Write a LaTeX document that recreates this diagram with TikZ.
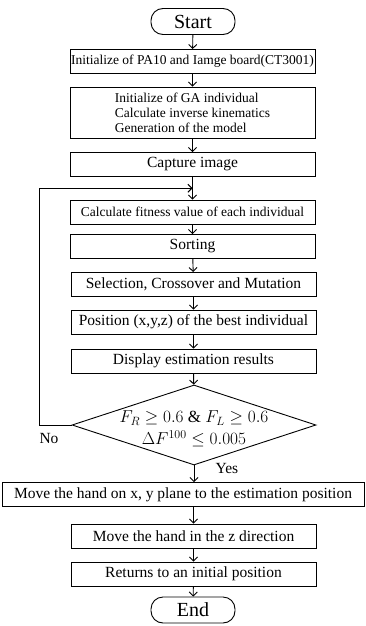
\documentclass[tikz,border=0pt]{standalone}
\usepackage{fontspec}
\setmainfont{Liberation Serif}
\usetikzlibrary{shapes.geometric,arrows.meta,calc}

\tikzset{
  procbox/.style={draw, line width=0.9pt, minimum width=245pt, minimum height=24pt, inner sep=1pt, font=\fontsize{15.5}{17}\selectfont},
  smalltext/.style={font=\fontsize{13.5}{15}\selectfont},
  termbox/.style={draw, line width=0.9pt, rounded corners=12pt, minimum width=84pt, minimum height=26pt, font=\fontsize{20}{22}\selectfont},
  decision/.style={draw, line width=0.9pt, diamond, minimum width=244pt, minimum height=80pt, inner sep=0pt},
  flow/.style={line width=0.9pt, -{Straight Barb[length=4pt,width=8pt]}},
}

\begin{document}
\begin{tikzpicture}[x=1pt, y=-1pt]
\useasboundingbox (0,0) rectangle (366,626);
% main column
\node[termbox] (start) at (193,21.5) {Start};
\node[procbox, smalltext] (init) at (192.5,61.5) {Initialize of PA10 and Iamge board(CT3001)};
\node[procbox, minimum height=51pt, align=left, font=\fontsize{13.5}{15}\selectfont] (ga) at (192.5,112.5) {Initialize of GA individual\\Calculate inverse kinematics\\Generation of the model};
\node[procbox] (cap) at (192.5,164.5) {Capture image};
\node[procbox, smalltext] (fit) at (192.5,212) {Calculate fitness value of each individual};
\node[procbox] (sort) at (192.5,246.5) {Sorting};
\node[procbox] (sel) at (193.5,284.5) {Selection, Crossover and Mutation};
\node[procbox] (pos) at (193.5,322) {Position (x,y,z) of the best individual};
\node[procbox] (disp) at (193.5,361) {Display estimation results};
\node[decision] (dec) at (194,425) {};
\node[font=\fontsize{17}{19}\selectfont, align=center] (cond) at ([yshift=-4pt]dec.center) {$F_R \geq 0.6\ \&\ F_L \geq 0.6$\\[3pt]$\Delta F^{100} \leq 0.005$};
\node[procbox, minimum width=362pt] (xy) at (183,494.5) {Move the hand on x, y plane to the estimation position};
\node[procbox] (zdir) at (193.5,536) {Move the hand in the z direction};
\node[procbox] (ret) at (193.5,574) {Returns to an initial position};
\node[termbox] (end) at (193,610) {End};
% connectors
\draw[flow] (start) -- (init);
\draw[flow] (init) -- (ga);
\draw[flow] (ga) -- (cap);
\draw[flow] (cap) -- (fit);
\draw[flow] (fit) -- (sort);
\draw[flow] (sort) -- (sel);
\draw[flow] (sel) -- (pos);
\draw[flow] (pos) -- (disp);
\draw[flow] (disp) -- (dec);
\draw[flow] (dec.south) -- (dec.south |- xy.north);
\draw[flow] (xy.south -| zdir) -- (zdir);
\draw[flow] (zdir) -- (ret);
\draw[flow] (ret) -- (end);
% loop back
\coordinate (merge) at ($(cap.south)!0.5!(fit.north)$);
\draw[flow] (dec.west) -- ++(-32,0) |- (merge);
\node[procbox, draw=none, minimum width=0pt] (no) at (49,438) {No};
\node[procbox, draw=none, minimum width=0pt] (yes) at (227,468) {Yes};
\end{tikzpicture}
\end{document}
